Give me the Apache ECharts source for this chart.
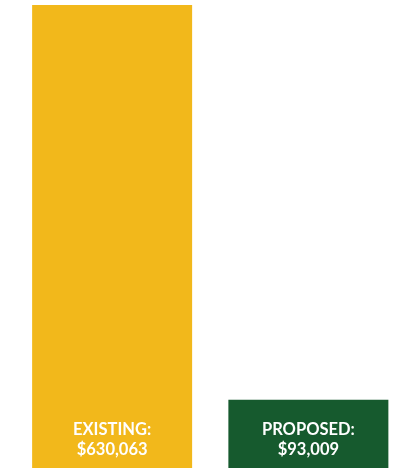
<!DOCTYPE html>
<html><head><meta charset="utf-8">
<script src="https://cdn.jsdelivr.net/npm/echarts@6/dist/echarts.min.js"></script>
<style>html,body{margin:0;padding:0;background:#fff}#c{width:414px;height:468px}</style>
</head><body><div id="c"></div>
<script>
const categories = ['EXISTING', 'PROPOSED'];
const values = [630063, 93009];
const labels = ['EXISTING:\n$630,063', 'PROPOSED:\n$93,009'];
const colors = ['#F2B81B', '#165A2E'];

const chart = echarts.init(document.getElementById('c'));
chart.setOption({
  animation: false,
  grid: {left: 14, top: 5, width: 392.5, height: 466, containLabel: false},
  xAxis: {type: 'category', data: categories, show: false},
  yAxis: {type: 'value', min: 0, max: 630063, show: false},
  series: [{
    type: 'bar',
    barWidth: 160,
    data: values.map((v, i) => ({value: v, itemStyle: {color: colors[i]},
      label: {formatter: labels[i]}})),
    label: {
      show: true, position: 'insideBottom', distance: 8,
      color: '#fff', fontFamily: 'Lato', fontWeight: 'bold', fontSize: 16.5, lineHeight: 20
    }
  }]
});
</script></body></html>
